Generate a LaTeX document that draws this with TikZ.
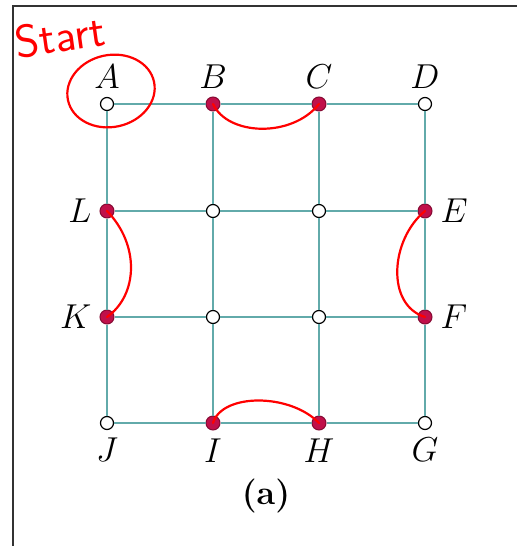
\documentclass[tikz,border=0pt]{standalone}
\usepackage{tikz}
\usetikzlibrary{positioning,calc}
\definecolor{gridteal}{HTML}{62AAAA}
\definecolor{dotred}{HTML}{C0104A}
\definecolor{inkred}{HTML}{FF0000}
\definecolor{framegray}{HTML}{333333}
\tikzset{
  opendot/.style={circle, draw=black, fill=white, line width=0.6pt, minimum size=6.5pt, inner sep=0pt},
  fulldot/.style={circle, draw=dotred!70!black, fill=dotred, line width=0.5pt, minimum size=7pt, inner sep=0pt},
  lab/.style={font=\fontsize{16}{18}\selectfont, label distance=0.5pt},
  edge/.style={gridteal, line width=1pt},
  ink/.style={inkred, line width=1.1pt, line cap=round},
}

\begin{document}
\begin{tikzpicture}[x=0.5pt, y=-0.5pt]
        \useasboundingbox (0,0) rectangle (517,546);
        \draw[framegray, line width=1pt] (13,546) -- (13,6) -- (517,6);
        % top row
        \node[opendot, label={[lab]above:$A$}] (A) at (107,104) {};
        \node[fulldot, label={[lab]above:$B$}] (B) at (213,104) {};
        \node[fulldot, label={[lab]above:$C$}] (C) at (319,104) {};
        \node[opendot, label={[lab]above:$D$}] (D) at (425,104) {};
        % second row
        \node[fulldot, label={[lab]left:$L$}] (L) at (107,211) {};
        \node[opendot] (p1) at (213,211) {};
        \node[opendot] (p2) at (319,211) {};
        \node[fulldot, label={[lab]right:$E$}] (E) at (425,211) {};
        % third row
        \node[fulldot, label={[lab]left:$K$}] (K) at (107,317) {};
        \node[opendot] (p3) at (213,317) {};
        \node[opendot] (p4) at (319,317) {};
        \node[fulldot, label={[lab]right:$F$}] (F) at (425,317) {};
        % bottom row
        \node[opendot, label={[lab]below:$J$}] (J) at (107,423) {};
        \node[fulldot, label={[lab]below:$I$}] (I) at (213,423) {};
        \node[fulldot, label={[lab]below:$H$}] (H) at (319,423) {};
        \node[opendot, label={[lab]below:$G$}] (G) at (425,423) {};
        \foreach \a/\b in {A/B,B/C,C/D,L/p1,p1/p2,p2/E,K/p3,p3/p4,p4/F,J/I,I/H,H/G,
                           A/L,L/K,K/J,B/p1,p1/p3,p3/I,C/p2,p2/p4,p4/H,D/E,E/F,F/G}
          \draw[edge] (\a) -- (\b);
        \node[font=\fontsize{17}{19}\selectfont\bfseries] (cap) at (266,496) {(a)};
        % handwritten marks
        \draw[ink] (B.center) .. controls (228,136) and (292,138) .. (C.center);
        \draw[ink] (I.center) .. controls (222,393) and (290,393) .. (H.center);
        \draw[ink] (L.center) .. controls (140,245) and (138,295) .. (K.center);
        \draw[ink] (E.center) .. controls (390,240) and (386,305) .. (F.center);
        \draw[ink, rotate around={12:(111,91)}] (111,91) ellipse [x radius=44, y radius=36];
        \node[inkred, font=\fontsize{23}{25}\selectfont\sffamily, rotate=8] (start) at (60,36) {Start};
      \end{tikzpicture}
\end{document}
